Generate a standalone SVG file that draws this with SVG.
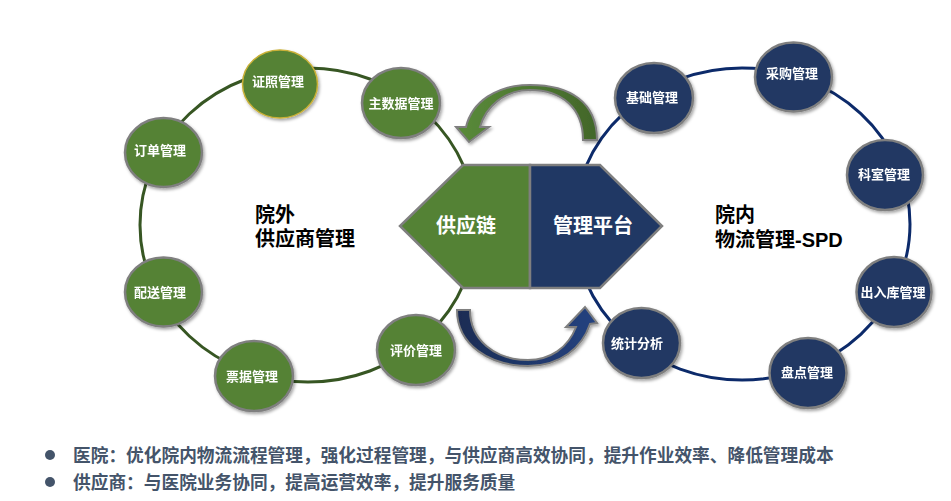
<svg xmlns="http://www.w3.org/2000/svg" width="951" height="501" viewBox="0 0 951 501">
<defs>
<style>
.ring{fill:none;stroke-width:3}
.gnode{fill:#548235;stroke:#7f7f7f;stroke-width:2.5}
.bnode{fill:#203864;stroke:#7f7f7f;stroke-width:2.5}
.nt{font-family:"Liberation Sans","Noto Sans CJK SC",sans-serif;font-weight:bold;font-size:13px;fill:#fff;text-anchor:middle;dominant-baseline:central}
.ht{font-family:"Liberation Sans","Noto Sans CJK SC",sans-serif;font-weight:bold;font-size:20px;fill:#fff;text-anchor:middle;dominant-baseline:central}
.ct{font-family:"Liberation Sans","Noto Sans CJK SC",sans-serif;font-weight:bold;font-size:20px;fill:#000}
.bt{font-family:"Liberation Sans","Noto Sans CJK SC",sans-serif;font-weight:bold;font-size:17.7px;fill:#44546a}
</style>
<filter id="sh" x="-20%" y="-20%" width="150%" height="150%">
<feDropShadow dx="1.5" dy="2" stdDeviation="1.5" flood-color="#000" flood-opacity="0.35"/>
</filter>
<linearGradient id="ga" x1="0" y1="0" x2="1" y2="0">
<stop offset="0" stop-color="#5a8b3a"/>
<stop offset="1" stop-color="#42662a"/>
</linearGradient>
<linearGradient id="ba" x1="0" y1="0" x2="1" y2="0">
<stop offset="0" stop-color="#1a2c54"/>
<stop offset="1" stop-color="#244280"/>
</linearGradient>
</defs>
<rect width="951" height="501" fill="#fff"/>

<g id="connectors">
<ellipse class="ring" cx="308" cy="225" rx="168" ry="157" stroke="#375623"/>
<ellipse class="ring" cx="742" cy="224" rx="168" ry="156" stroke="#0c2a6a"/>
<path id="arrow-top" d="M597,140 C597,102 570,85 530,85 C496,85 472,102 466,127 L456,127 L469,142 L489,127 L480,127 C486,106 505,90 530,90 C562,90 583,108 583,140 Z" fill="url(#ga)" stroke="#7f7f7f" stroke-width="2" filter="url(#sh)"/>
<path id="arrow-bottom" d="M457,310 C457,345 490,366 528,366 C560,366 582,348 590,324 L597,323 L585,307 L566,327 L576,327 C568,348 550,360 528,360 C495,360 470,340 470,310 Z" fill="url(#ba)" stroke="#7f7f7f" stroke-width="2" filter="url(#sh)"/>
</g>

<g id="hub">
<polygon points="530,165 463,165 400,226 463,288 530,288" fill="#548235" stroke="#7f7f7f" stroke-width="2.5"/>
<polygon points="530,165 600,165 662,226 600,288 530,288" fill="#203864" stroke="#7f7f7f" stroke-width="2.5"/>
<text class="ht" x="466" y="226">供应链</text>
<text class="ht" x="593" y="226">管理平台</text>
</g>

<g id="label-left">
<text class="ct" x="255" y="222">院外</text>
<text class="ct" x="255" y="246">供应商管理</text>
</g>
<g id="label-right">
<text class="ct" x="715" y="222">院内</text>
<text class="ct" x="715" y="247">物流管理-SPD</text>
</g>

<g id="n-zhengzhao" filter="url(#sh)"><ellipse cx="280" cy="84" rx="37.5" ry="34" fill="#548235" stroke="#c9b037" stroke-width="1.5"/><text class="nt" x="278" y="81">证照管理</text></g>
<g id="n-zhushuju" filter="url(#sh)"><ellipse class="gnode" cx="401" cy="103" rx="39" ry="35"/><text class="nt" x="401" y="103">主数据管理</text></g>
<g id="n-dingdan" filter="url(#sh)"><ellipse class="gnode" cx="163.5" cy="152.5" rx="38.5" ry="34.5"/><text class="nt" x="160" y="150">订单管理</text></g>
<g id="n-peisong" filter="url(#sh)"><ellipse class="gnode" cx="163.5" cy="292" rx="38.5" ry="34.5"/><text class="nt" x="160" y="292">配送管理</text></g>
<g id="n-piaoju" filter="url(#sh)"><ellipse class="gnode" cx="254" cy="376" rx="39" ry="35"/><text class="nt" x="252" y="376">票据管理</text></g>
<g id="n-pingjia" filter="url(#sh)"><ellipse class="gnode" cx="416" cy="350" rx="39" ry="35"/><text class="nt" x="416" y="350">评价管理</text></g>

<g id="n-jichu" filter="url(#sh)"><ellipse class="bnode" cx="654" cy="98" rx="39" ry="35"/><text class="nt" x="652" y="97">基础管理</text></g>
<g id="n-caigou" filter="url(#sh)"><ellipse class="bnode" cx="793.5" cy="77" rx="38.5" ry="34.5"/><text class="nt" x="792" y="73">采购管理</text></g>
<g id="n-keshi" filter="url(#sh)"><ellipse class="bnode" cx="885" cy="175" rx="38" ry="35"/><text class="nt" x="884" y="174">科室管理</text></g>
<g id="n-churuku" filter="url(#sh)"><ellipse class="bnode" cx="894" cy="292" rx="37.5" ry="35"/><text class="nt" x="893" y="292">出入库管理</text></g>
<g id="n-pandian" filter="url(#sh)"><ellipse class="bnode" cx="808" cy="373" rx="38.5" ry="35"/><text class="nt" x="807" y="372">盘点管理</text></g>
<g id="n-tongji" filter="url(#sh)"><ellipse class="bnode" cx="641.5" cy="343" rx="38.5" ry="35"/><text class="nt" x="637" y="343">统计分析</text></g>

<g id="notes">
<circle cx="50" cy="455" r="5" fill="#44546a"/>
<text class="bt" x="73" y="461.5">医院：优化院内物流流程管理，强化过程管理，与供应商高效协同，提升作业效率、降低管理成本</text>
<circle cx="50" cy="482" r="5" fill="#44546a"/>
<text class="bt" x="73" y="488.5">供应商：与医院业务协同，提高运营效率，提升服务质量</text>
</g>
</svg>
